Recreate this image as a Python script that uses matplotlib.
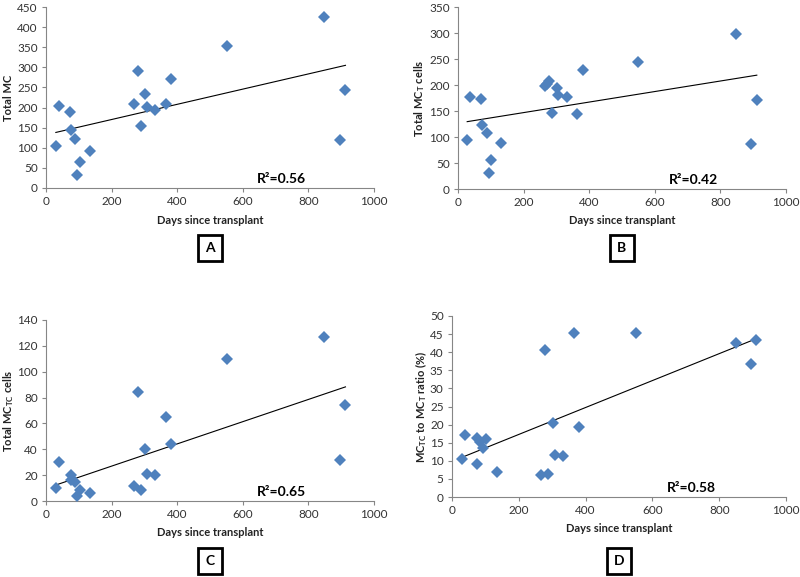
import numpy as np
import matplotlib
matplotlib.use('Agg')
import matplotlib.pyplot as plt

plt.rcParams['font.family'] = ['Lato', 'DejaVu Sans']
plt.rcParams['mathtext.fontset'] = 'custom'
plt.rcParams['mathtext.bf'] = 'Lato:bold'
plt.rcParams['mathtext.rm'] = 'Lato'

# data
days_a = [30, 40, 73, 75, 89, 95, 104, 134, 268, 279, 289, 303, 309, 332, 365, 382, 551, 848, 896, 913]
total_mc = [105, 204, 189, 143, 121, 33, 64, 92, 210, 290, 154, 234, 201, 194, 208, 272, 353, 424, 119, 244]

days_b = [28, 36, 71, 73, 87, 93, 101, 132, 266, 271, 278, 287, 301, 306, 331, 364, 380, 549, 847, 894, 911]
total_mct = [95, 176, 174, 124, 107, 30, 56, 88, 198, 202, 207, 146, 195, 181, 176, 144, 229, 244, 299, 87, 171]

days_c = [30, 40, 75, 76, 89, 95, 104, 134, 268, 279, 289, 303, 308, 332, 365, 382, 551, 848, 896, 913]
total_mctc = [10, 30, 20, 16, 14.5, 3.6, 8.7, 5.9, 11.8, 84, 8.7, 40, 20.5, 19.8, 64.6, 44, 109.6, 126.6, 31.7, 73.9]

days_d = [31, 40, 74, 76, 85, 94, 103, 135, 267, 278, 288, 302, 307, 332, 364, 380, 550, 849, 895, 911]
ratio = [10.6, 17.2, 9.2, 16.3, 15.2, 13.4, 16.1, 6.9, 6.0, 40.6, 6.3, 20.5, 11.6, 11.3, 45.2, 19.2, 45.2, 42.6, 36.8, 43.3]

panels = [
    ('A', days_a, total_mc, 'Total MC', 'R²=0.56', 450, 50),
    ('B', days_b, total_mct, r'Total MC$_\mathbf{T}$ cells', 'R²=0.42', 350, 50),
    ('C', days_c, total_mctc, r'Total MC$_\mathbf{TC}$ cells', 'R²=0.65', 140, 20),
    ('D', days_d, ratio, r'MC$_\mathbf{TC}$ to MC$_\mathbf{T}$ ratio (%)', 'R²=0.58', 50, 5),
]

W, H = 800, 577
# axes boxes in pixels: left, top, right, bottom
boxes = {
    'A': (46, 7, 374, 188),
    'B': (458, 7, 786, 189),
    'C': (46, 320, 374, 501),
    'D': (452, 316, 786, 497),
}
# x label y, y label x, panel letter y
label_pos = {
    'A': (221, 9, 248),
    'B': (221, 420, 248),
    'C': (533, 9, 561),
    'D': (528, 421, 561),
}

fig = plt.figure(figsize=(W / 100, H / 100), dpi=100)
grey = '#868686'
blue = '#4F81BD'

for name, x, y, ylab, r2, ymax, ystep in panels:
    l, t, r, b = boxes[name]
    ax = fig.add_axes([l / W, 1 - b / H, (r - l) / W, (b - t) / H])
    ax.plot(x, y, 'D', color=blue, markersize=6.5, markeredgewidth=0, zorder=3)

    # linear trend line
    k, c = np.polyfit(x, y, 1)
    xs = np.array([min(x), max(x)])
    ax.plot(xs, k * xs + c, color='black', lw=0.8, zorder=2)

    ax.set_xlim(0, 1000)
    ax.set_ylim(0, ymax)
    ax.set_xticks(np.arange(0, 1001, 200))
    ax.set_yticks(np.arange(0, ymax + 1, ystep))
    for s in ['top', 'right']:
        ax.spines[s].set_visible(False)
    for s in ['left', 'bottom']:
        ax.spines[s].set_color(grey)
        ax.spines[s].set_linewidth(0.8)
    ax.tick_params(direction='out', length=3, width=0.8, color=grey,
                   labelsize=8.5, labelcolor='#333333', pad=3)

    ax.text(0.643, 0.05, r2, transform=ax.transAxes, fontsize=10,
            fontweight='bold', va='center', ha='left')

    xl_y, yl_x, let_y = label_pos[name]
    cx = (l + r) / 2
    fig.text(cx / W, 1 - xl_y / H, 'Days since transplant', fontsize=8,
             fontweight='bold', ha='center', va='center', color='#222222')
    fig.text(yl_x / W, 1 - ((t + b) / 2) / H, ylab, fontsize=8,
             fontweight='bold', rotation=90, ha='center', va='center', color='#222222')
    fig.text(cx / W - 0.0125 + 0.0125, 1 - let_y / H, name, fontsize=10,
             fontweight='bold', ha='center', va='center',
             bbox=dict(boxstyle='square,pad=0.5', fc='white', ec='black', lw=2))

fig.savefig('out.png', dpi=100)
